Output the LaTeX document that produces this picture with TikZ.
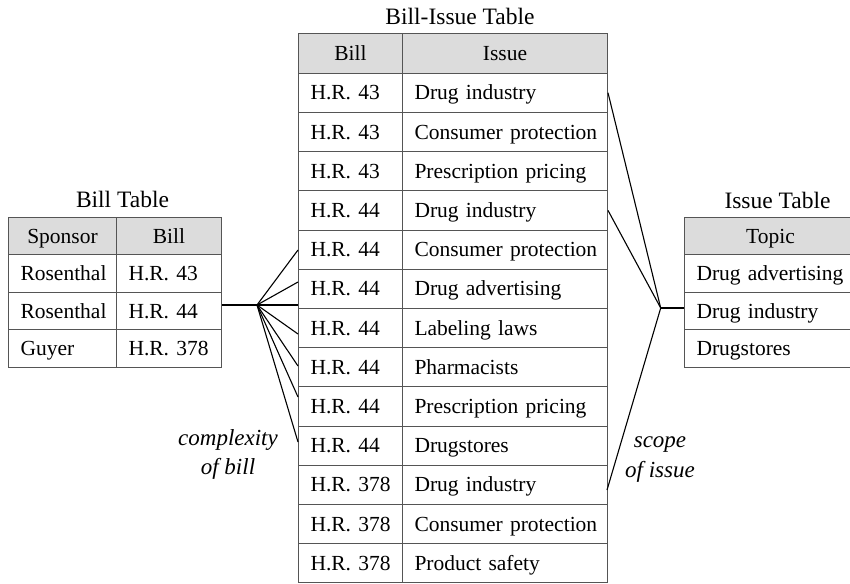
\documentclass[tikz,border=0pt]{standalone}
\usepackage{fontspec}
\setmainfont{Liberation Serif}
\definecolor{tblline}{RGB}{85,85,85}
\definecolor{hdrfill}{RGB}{220,220,220}
\begin{document}
\begin{tikzpicture}[x=1pt,y=-1pt,
  cellbox/.style={draw=tblline, line width=1pt, inner xsep=12pt, inner ysep=0pt,
    text height=14.1pt, text depth=0pt, font=\fontsize{21.5}{26}\selectfont,
    anchor=north west, align=left},
  headbox/.style={cellbox, fill=hdrfill, align=center},
  tabletitle/.style={font=\fontsize{23.5}{28}\selectfont, anchor=base, inner sep=0pt},
  note/.style={font=\fontsize{23}{28}\selectfont\itshape, anchor=base, inner sep=0pt},
  link/.style={line width=1.1pt, black}]
\useasboundingbox (0,0) rectangle (850,583);

% ---------- Bill-Issue table ----------
\node[tabletitle] (tbi) at (460,25) {Bill-Issue Table};
\node[headbox, minimum height=39.2pt, text width=80pt]  (bih1) at (298,33.5) {Bill};
\node[headbox, minimum height=39.2pt, text width=181pt] (bih2) at (402,33.5) {Issue};
\foreach \i/\b/\s in {1/H.R. 43/Drug industry, 2/H.R. 43/Consumer protection,
    3/H.R. 43/Prescription pricing, 4/H.R. 44/Drug industry,
    5/H.R. 44/Consumer protection, 6/H.R. 44/Drug advertising,
    7/H.R. 44/Labeling laws, 8/H.R. 44/Pharmacists,
    9/H.R. 44/Prescription pricing, 10/H.R. 44/Drugstores,
    11/H.R. 378/Drug industry, 12/H.R. 378/Consumer protection,
    13/H.R. 378/Product safety} {
  \pgfmathsetmacro\rtop{72.7+(\i-1)*39.2}
  \node[cellbox, minimum height=39.2pt, text width=80pt]  (bib\i) at (298,\rtop) {\mbox{\b}};
  \node[cellbox, minimum height=39.2pt, text width=181pt] (bis\i) at (402,\rtop) {\mbox{\s}};
}

% ---------- Bill table ----------
\node[tabletitle] (tb) at (122.5,207) {Bill Table};
\node[headbox, minimum height=37.5pt, text width=84pt] (bh1) at (8,216.7) {Sponsor};
\node[headbox, minimum height=37.5pt, text width=81pt] (bh2) at (116,216.7) {Bill};
\foreach \i/\p/\b in {1/Rosenthal/H.R. 43, 2/Rosenthal/H.R. 44, 3/Guyer/H.R. 378} {
  \pgfmathsetmacro\rtop{216.7+\i*37.5}
  \node[cellbox, minimum height=37.5pt, text width=84pt] (bs\i) at (8,\rtop) {\mbox{\p}};
  \node[cellbox, minimum height=37.5pt, text width=81pt] (bb\i) at (116,\rtop) {\mbox{\b}};
}

% ---------- Issue table ----------
\node[tabletitle] (ti) at (777.5,208) {Issue Table};
\node[headbox, minimum height=37.5pt, text width=148pt] (ih) at (684,216.7) {Topic};
\foreach \i/\t in {1/Drug advertising, 2/Drug industry, 3/Drugstores} {
  \pgfmathsetmacro\rtop{216.7+\i*37.5}
  \node[cellbox, minimum height=37.5pt, text width=148pt] (it\i) at (684,\rtop) {\mbox{\t}};
}

% ---------- fan-out of H.R. 44 ----------
\coordinate (hubL) at (257,305);
\coordinate (fl1) at (298,250);
\coordinate (fl2) at (298,282);
\coordinate (fl3) at (298,305);
\coordinate (fl4) at (298,334);
\coordinate (fl5) at (298,366);
\coordinate (fl6) at (298,397);
\coordinate (fl7) at (298,442);
\draw[link] (bb2.east |- hubL) -- (hubL);
\foreach \k in {1,...,7} \draw[link] (hubL) -- (fl\k);

% ---------- fan-in of "Drug industry" ----------
\coordinate (hubR) at (660.7,308);
\coordinate (fr3) at (607,490);
\draw[link] (hubR) -- (hubR -| it2.west);
\draw[link] (hubR) -- (bis1.east);
\draw[link] (hubR) -- (bis4.east);
\draw[link] (hubR) -- (fr3);

% ---------- annotations ----------
\node[note] (cx1) at (228,445) {complexity};
\node[note] (cx2) at (228,474) {of bill};
\node[note] (sc1) at (660,447) {scope};
\node[note] (sc2) at (660,477) {of issue};
\end{tikzpicture}
\end{document}
